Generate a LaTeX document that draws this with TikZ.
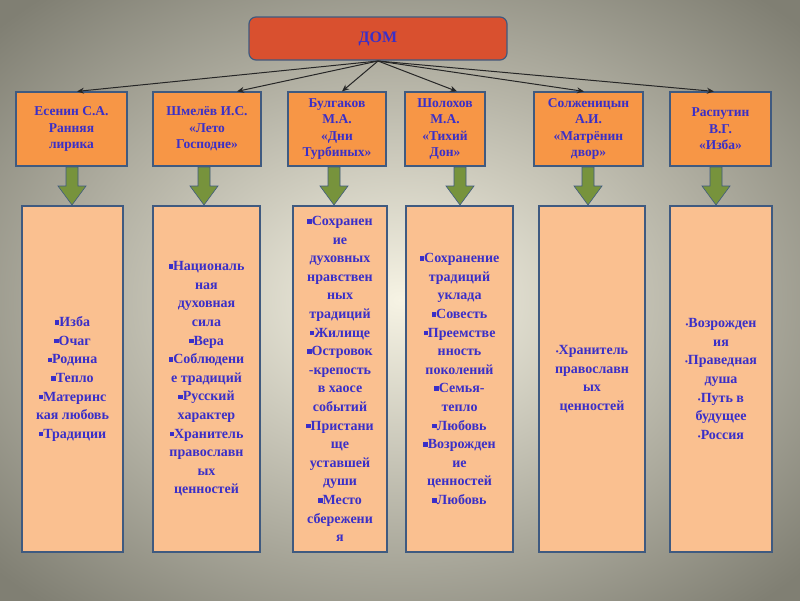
\documentclass[tikz,border=0pt]{standalone}
\usepackage{fontspec}
\setmainfont{Liberation Serif}
\usetikzlibrary{arrows.meta}
\definecolor{txt}{HTML}{3A2FC8}
\definecolor{redf}{HTML}{D9502F}
\definecolor{orf}{HTML}{F79646}
\definecolor{pale}{HTML}{FAC090}
\definecolor{bord}{HTML}{3F5A80}
\definecolor{grn}{HTML}{77933C}
\newcommand\sqb{\rule[0.3ex]{0.32em}{0.32em}}
\newcommand\rdb{{\footnotesize\textbullet}}
\begin{document}
\begin{tikzpicture}[x=1pt,y=-1pt,
  auth/.style={draw=bord,line width=1.2pt,fill=orf,text=txt,font=\bfseries\fontsize{13.5}{16.5}\selectfont,align=center,inner sep=1pt},
  list/.style={draw=bord,line width=1.2pt,fill=pale,text=txt,font=\bfseries\fontsize{14}{18.6}\selectfont,align=center,inner sep=1pt},
  link/.style={-{Stealth[length=7pt,width=6pt]},line width=1pt,black!85},
  garr/.style={fill=grn,draw=bord,line width=0.6pt}]
\useasboundingbox (0,0) rectangle (800,600);
\shade[inner color={rgb,255:red,246;green,243;blue,228},outer color={rgb,255:red,128;green,127;blue,115}] (-150,-100) rectangle (950,700);
\node[draw=bord,line width=1.2pt,fill=redf,rounded corners=7pt,minimum width=258pt,minimum height=43pt,text=txt,font=\bfseries\fontsize{16}{18}\selectfont] (dom) at (378,38.5) {ДОМ};
\newcommand\ab[8]{\node[auth,minimum width=#3-#2,minimum height=74pt] (#1) at ({(#2+#3)/2},129) {#4};
 \node[list,minimum width=#6-#5,minimum height=346pt] (l#1) at ({(#5+#6)/2},379) {#8};
 \draw[garr] (#7-6,167) -- (#7-6,186) -- (#7-14,186) -- (#7,205) -- (#7+14,186) -- (#7+6,186) -- (#7+6,167) -- cycle;}
\ab{a}{16}{127}{Есенин С.А.\\Ранняя\\лирика}{22}{123}{72}{\sqb Изба\\\sqb Очаг\\\sqb Родина\\\sqb Тепло\\\sqb Материнс\\кая любовь\\\sqb Традиции}
\ab{b}{153}{261}{Шмелёв И.С.\\«Лето\\Господне»}{153}{260}{204}{\sqb Националь\\ная\\духовная\\сила\\\sqb Вера\\\sqb Соблюдени\\е традиций\\\sqb Русский\\характер\\\sqb Хранитель\\православн\\ых\\ценностей}
\ab{c}{288}{386}{Булгаков\\М.А.\\«Дни\\Турбиных»}{293}{387}{334}{\sqb Сохранен\\ие\\духовных\\нравствен\\ных\\традиций\\\sqb Жилище\\\sqb Островок\\-крепость\\в хаосе\\событий\\\sqb Пристани\\ще\\уставшей\\души\\\sqb Место\\сбережени\\я}
\ab{d}{405}{485}{Шолохов\\М.А.\\«Тихий\\Дон»}{406}{513}{460}{\sqb Сохранение\\традиций\\уклада\\\sqb Совесть\\\sqb Преемстве\\нность\\поколений\\\sqb Семья-\\тепло\\\sqb Любовь\\\sqb Возрожден\\ие\\ценностей\\\sqb Любовь}
\ab{e}{534}{643}{Солженицын\\А.И.\\«Матрёнин\\двор»}{539}{645}{588}{\rdb Хранитель\\православн\\ых\\ценностей}
\ab{f}{670}{771}{Распутин\\В.Г.\\«Изба»}{670}{772}{716}{\rdb Возрожден\\ия\\\rdb Праведная\\душа\\\rdb Путь в\\будущее\\\rdb Россия}
\coordinate (s) at (378,61);
\foreach \n/\x in {a/77,b/237,c/342,d/457,e/584,f/714}{
  \draw[link] (s) -- (\n.north -| \x,0);
}
\end{tikzpicture}
\end{document}
